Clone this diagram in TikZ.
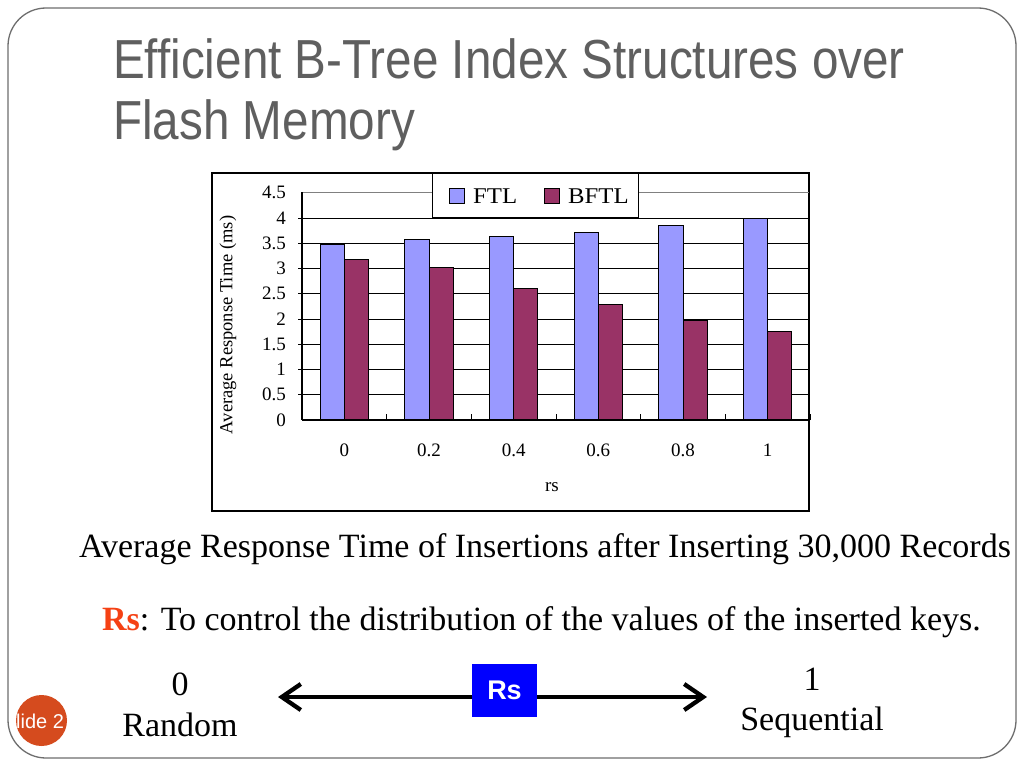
\documentclass[tikz,border=0pt]{standalone}
\usepackage{fontspec}
\setmainfont{Liberation Serif}
\newfontfamily\titlefont[FakeStretch=0.866]{Liberation Sans}
\newfontfamily\sansfont{Liberation Sans}
\newfontfamily\wideserif[FakeStretch=1.1]{Liberation Serif}
\usetikzlibrary{arrows.meta}
\definecolor{titlegray}{RGB}{95,95,95}
\definecolor{ftlcol}{RGB}{153,153,255}
\definecolor{bftlcol}{RGB}{153,51,102}
\definecolor{rsred}{RGB}{245,65,20}
\definecolor{slideorange}{RGB}{213,75,30}
\definecolor{framegray}{RGB}{110,110,110}
\definecolor{rsblue}{RGB}{0,0,255}
\tikzset{
  titletext/.style={anchor=base west, text=titlegray, font=\titlefont\fontsize{55}{60}\selectfont, inner sep=0},
  ticklab/.style={font=\fontsize{19}{21}\selectfont, inner sep=0},
  legtext/.style={font=\wideserif\fontsize{22.5}{24}\selectfont, anchor=base west, inner sep=0},
  bigtext/.style={font=\fontsize{34}{38}\selectfont, inner sep=0, anchor=base},
  grid line/.style={black, line width=1},
  ftlbar/.style={fill=ftlcol, draw=black, line width=0.8},
  bftlbar/.style={fill=bftlcol, draw=black, line width=0.8},
}
\begin{document}
\begin{tikzpicture}[x=1pt,y=-1pt]
\useasboundingbox (0,0) rectangle (1024,768);
\fill[white] (0,0) rectangle (1024,768);
% slide frame
\draw[framegray, line width=1.3, rounded corners=38pt] (8,8) rectangle (1016,758);
% title
\node[titletext] (t1) at (113,78) {Efficient B-Tree Index Structures over};
\node[titletext] (t2) at (113,139) {Flash Memory};
% chart frame
\draw[black, line width=1.6] (212,173) rectangle (809,511);
% gridlines
\foreach \k in {1,...,8} {
  \draw[grid line] (302,{420-25.25*\k}) -- (809,{420-25.25*\k});
  \draw[black, line width=0.8] (298,{420-25.25*\k}) -- (302,{420-25.25*\k});
}
\draw[gray, line width=1.4] (302,192.75) -- (809,192.75);
% y tick labels
\foreach \k/\lab in {0/0,1/0.5,2/1,3/1.5,4/2,5/2.5,6/3,7/3.5,8/4,9/4.5} {
  \node[ticklab, anchor=east] (yl\k) at (286,{420-25.25*\k}) {\lab};
}
% bars
\foreach \i/\a/\b in {0/3.47/3.19, 1/3.57/3.03, 2/3.63/2.60, 3/3.72/2.28, 4/3.85/1.98, 5/4.0/1.75} {
  \draw[ftlbar] ({302+84.67*\i+18.2},420) rectangle ({302+84.67*\i+42.4},{420-50.5*\a});
  \draw[bftlbar] ({302+84.67*\i+42.4},420) rectangle ({302+84.67*\i+66.5},{420-50.5*\b});
}
% axes
\draw[black, line width=1.2] (302,192) -- (302,420);
\draw[black, line width=1.2] (302,420) -- (810,420);
\foreach \i in {1,...,6} {
  \draw[black, line width=1] ({302+84.67*\i},420) -- ({302+84.67*\i},414);
}
% category labels
\foreach \i/\lab in {0/0,1/0.2,2/0.4,3/0.6,4/0.8,5/1} {
  \node[ticklab] (xl\i) at ({302+84.67*\i+42.3},450) {\lab};
}
\node[ticklab] (xtitle) at (552,487) {rs};
\node[ticklab, font=\fontsize{18.5}{20}\selectfont, rotate=90] (ytitle) at (228,325) {Average Response Time (ms)};
% legend
\draw[black, fill=white, line width=1] (432,173) rectangle (638,217);
\draw[ftlbar] (449,188) rectangle (464,203);
\node[legtext] (lftl) at (473,203) {FTL};
\draw[bftlbar] (544,188) rectangle (559,203);
\node[legtext] (lbftl) at (568,203) {BFTL};
% captions
\node[bigtext] (cap1) at (545,557) {Average Response Time of Insertions after Inserting 30,000 Records};
\node[bigtext] (cap2) at (541.5,630) {\textcolor{rsred}{\textbf{Rs}}: To control the distribution of the values of the inserted keys.};
% range arrow
\coordinate (la) at (278,697);
\coordinate (ra) at (707,697);
\draw[black, line width=4.3, {Straight Barb[length=19pt,width=26pt]}-{Straight Barb[length=19pt,width=26pt]}] (la) -- (ra);
\node[fill=rsblue, minimum width=65pt, minimum height=53pt, inner sep=0, text=white, font=\sansfont\bfseries\fontsize{27}{30}\selectfont] (rs) at (504.5,690.5) {Rs};
\node[bigtext] (zero) at (180,695) {0};
\node[bigtext] (random) at (180,736) {Random};
\node[bigtext] (one) at (812,690) {1};
\node[bigtext] (seq) at (812,730) {Sequential};
% slide number
\begin{scope}
\fill[slideorange] (41.5,720.5) circle (25.5);
\clip (41.5,720.5) circle (25.5);
\node[anchor=base west, inner sep=0, text=white, font=\sansfont\fontsize{20}{22}\selectfont] (snum) at (16,728) {lide 2};
\end{scope}
\end{tikzpicture}
\end{document}
